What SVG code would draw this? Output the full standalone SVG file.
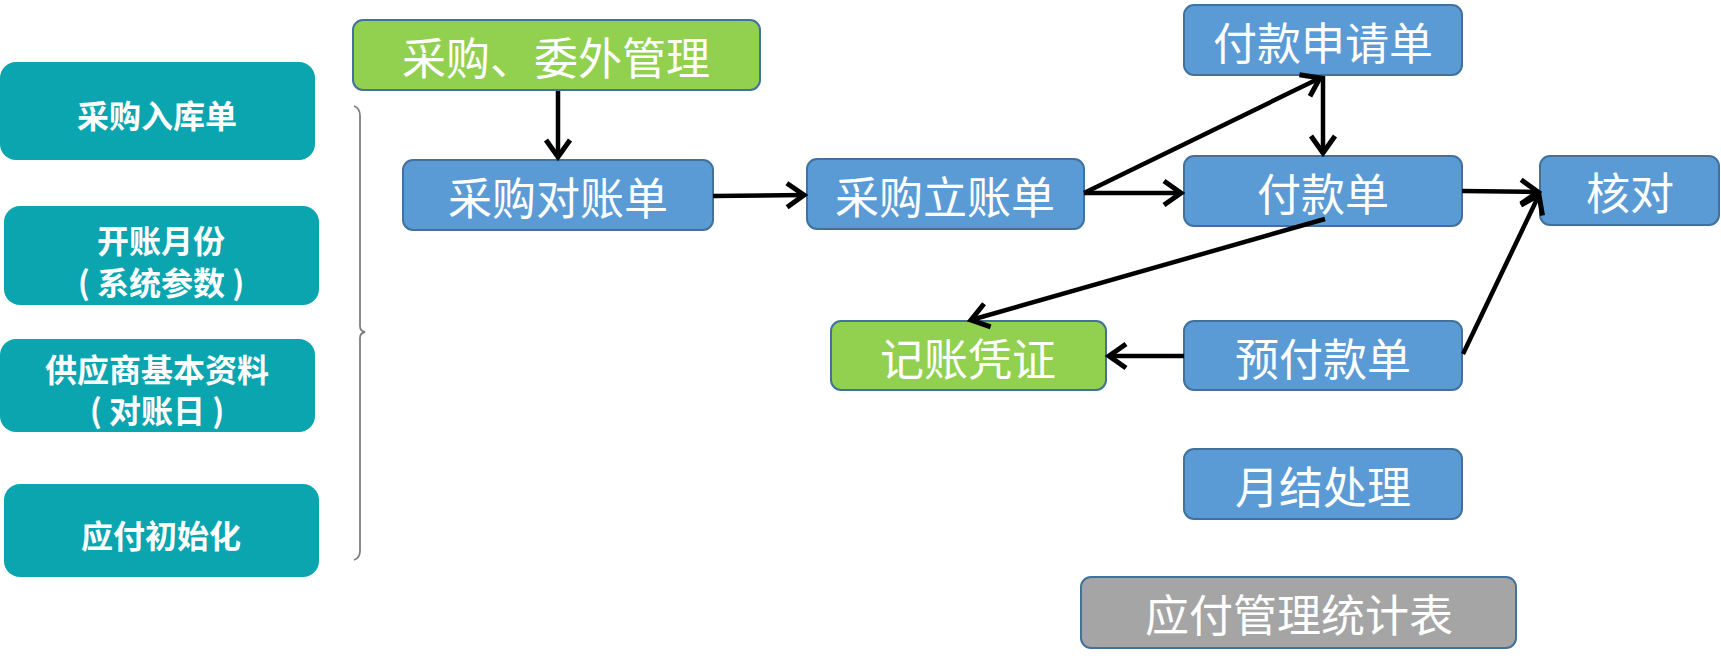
<svg xmlns="http://www.w3.org/2000/svg" width="1721" height="666" viewBox="0 0 1721 666">
<style>
.teal{fill:#0AA5AF;}
.blue{fill:#5B9BD5;stroke:#41719C;stroke-width:2;}
.green{fill:#92D050;stroke:#41719C;stroke-width:2;}
.gray{fill:#A5A5A5;stroke:#41719C;stroke-width:2;}
.lt{font-family:"Noto Sans CJK SC","Noto Sans",sans-serif;font-size:32px;font-weight:bold;fill:#FFFFFF;text-anchor:middle;dominant-baseline:central;}
.rt{font-family:"Noto Sans CJK SC","Noto Sans",sans-serif;font-size:44px;fill:#FFFFFF;text-anchor:middle;dominant-baseline:central;}
.conn{stroke:#000000;stroke-width:4.5;fill:none;marker-end:url(#ah);}
</style>
<defs>
<marker id="ah" markerUnits="userSpaceOnUse" markerWidth="40" markerHeight="40" viewBox="-20 -20 40 40" refX="0" refY="0" orient="auto" overflow="visible">
<path d="M -17 -12 L 0 0 L -17 12" fill="none" stroke="#000000" stroke-width="5" stroke-linejoin="miter"/>
</marker>
</defs>
<rect width="1721" height="666" fill="#FFFFFF"/>
<g id="n-cgrkd"><rect class="teal" x="0" y="62" width="315" height="98" rx="16"/><text class="lt" x="157" y="114">采购入库单</text></g>
<g id="n-kzyf"><rect class="teal" x="4" y="206" width="315" height="99" rx="16"/><text class="lt" x="161" y="239">开账月份</text><text class="lt" x="161" y="281" xml:space="preserve">( 系统参数 )</text></g>
<g id="n-gys"><rect class="teal" x="0" y="339" width="315" height="93" rx="16"/><text class="lt" x="157" y="368">供应商基本资料</text><text class="lt" x="157" y="409" xml:space="preserve">( 对账日 )</text></g>
<g id="n-yfcsh"><rect class="teal" x="4" y="484" width="315" height="93" rx="16"/><text class="lt" x="161" y="534">应付初始化</text></g>
<g id="brace"><path d="M 354 106 Q 360 108 360 116 L 360 326 Q 360 331 365 332 Q 360 333 360 338 L 360 551 Q 360 558 354 560" fill="none" stroke="#7F7F7F" stroke-width="1.8"/></g>
<g id="n-cgww"><rect class="green" x="353" y="20" width="407" height="70" rx="10"/><text class="rt" x="556" y="56">采购、委外管理</text></g>
<g id="n-cgdzd"><rect class="blue" x="403" y="160" width="310" height="70" rx="10"/><text class="rt" x="558" y="196">采购对账单</text></g>
<g id="n-cglzd"><rect class="blue" x="807" y="159" width="277" height="70" rx="10"/><text class="rt" x="945" y="195">采购立账单</text></g>
<g id="n-fksqd"><rect class="blue" x="1184" y="5" width="278" height="70" rx="10"/><text class="rt" x="1323" y="41">付款申请单</text></g>
<g id="n-fkd"><rect class="blue" x="1184" y="156" width="278" height="70" rx="10"/><text class="rt" x="1323" y="192">付款单</text></g>
<g id="n-hd"><rect class="blue" x="1540" y="156" width="179" height="69" rx="10"/><text class="rt" x="1630" y="191">核对</text></g>
<g id="n-jzpz"><rect class="green" x="831" y="321" width="275" height="69" rx="10"/><text class="rt" x="968" y="357">记账凭证</text></g>
<g id="n-yfkd"><rect class="blue" x="1184" y="321" width="278" height="69" rx="10"/><text class="rt" x="1323" y="357">预付款单</text></g>
<g id="n-yjcl"><rect class="blue" x="1184" y="449" width="278" height="70" rx="10"/><text class="rt" x="1323" y="485">月结处理</text></g>
<g id="n-yfgltjb"><rect class="gray" x="1081" y="577" width="435" height="71" rx="10"/><text class="rt" x="1299" y="613">应付管理统计表</text></g>
<g id="connectors">
<line class="conn" x1="558" y1="91" x2="558" y2="157"/>
<line class="conn" x1="713" y1="196" x2="804" y2="195"/>
<line class="conn" x1="1084" y1="193" x2="1320" y2="78"/>
<line class="conn" x1="1084" y1="193" x2="1181" y2="193"/>
<line class="conn" x1="1323" y1="76" x2="1323" y2="153"/>
<line class="conn" x1="1462" y1="191" x2="1538" y2="192"/>
<line class="conn" x1="1463" y1="354" x2="1539" y2="195"/>
<line class="conn" x1="1325" y1="219" x2="971" y2="320"/>
<line class="conn" x1="1184" y1="356" x2="1109" y2="356"/>
</g>
</svg>
